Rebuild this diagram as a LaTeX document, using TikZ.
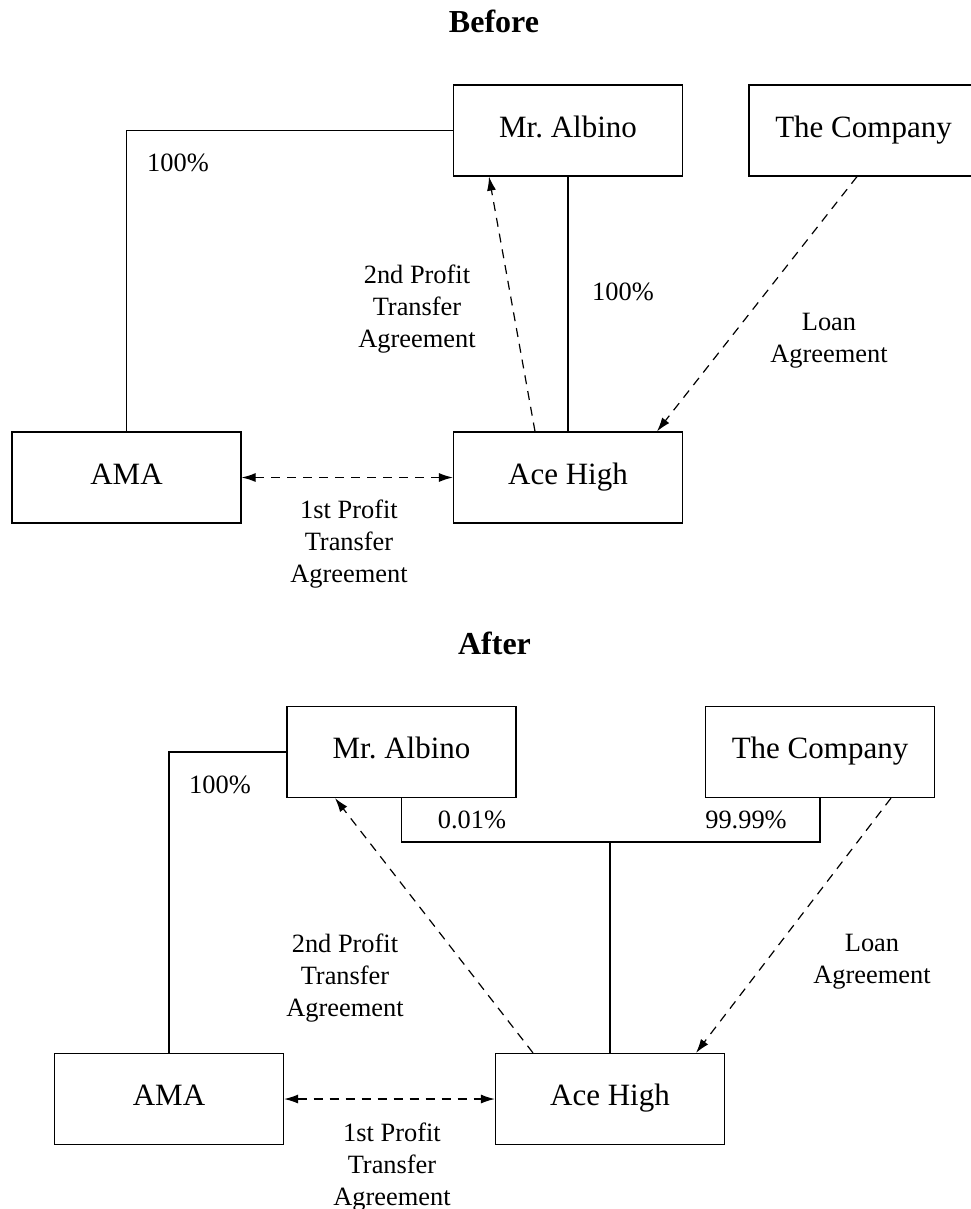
\documentclass[tikz,border=0pt]{standalone}
\usepackage{fontspec}
\setmainfont{Liberation Serif}
\usetikzlibrary{arrows.meta}
\frenchspacing

\begin{document}
\begin{tikzpicture}[x=0.5pt, y=-0.5pt, line width=0.6pt,
    box/.style = {draw, minimum width=114.5pt, minimum height=45.5pt, inner sep=0pt,
                  text height=0.66em, text depth=0em,
                  font=\fontsize{15.5}{18}\selectfont},
    lbl/.style = {align=center, inner sep=0pt, font=\fontsize{13.2}{16}\selectfont},
    ttl/.style = {anchor=base, inner sep=0pt, font=\fontsize{16}{19}\selectfont\bfseries},
    agree/.style = {dashed, dash pattern=on 4.5pt off 3.5pt},
    tip/.style = {-{Latex[length=7pt, width=4.5pt]}},
    tips/.style = {{Latex[length=7pt, width=4.5pt]}-{Latex[length=7pt, width=4.5pt]}}]
\useasboundingbox (0,0) rectangle (970,1209);

% before
\node [ttl] (before) at (494,33) {Before};
\node [box] (albinoB)  at (568,130.5)   {Mr. Albino};
\node [box] (companyB) at (863.5,130.5) {The Company};
\node [box] (amaB)     at (126.5,477.5) {AMA};
\node [box] (aceB)     at (568,477.5)   {Ace High};

\draw (albinoB.west) -| (amaB.north);
\draw (albinoB.south) -- (aceB.north);
\draw [agree, tip] ([xshift=-16.5pt]aceB.north) -- ([xshift=-39.5pt]albinoB.south);
\draw [agree, tip] ([xshift=-3.25pt]companyB.south) -- ([xshift=44.5pt]aceB.north);
\draw [agree, tips] (amaB.east) -- (aceB.west);

\node [lbl] (ownAmaB) at (178,163) {100\%};
\node [lbl] (ownAceB) at (623,292) {100\%};
\node [lbl] (ptaTwoB) at (417,309) {2nd Profit\\Transfer\\Agreement};
\node [lbl] (loanB)   at (829,340.5) {Loan\\Agreement};
\node [lbl] (ptaOneB) at (349,544) {1st Profit\\Transfer\\Agreement};

% after
\node [ttl] (after) at (494.5,654) {After};
\node [box] (albinoA)  at (401.5,752) {Mr. Albino};
\node [box] (companyA) at (820,752)   {The Company};
\node [box] (amaA)     at (169,1099)  {AMA};
\node [box] (aceA)     at (610,1099)  {Ace High};
\coordinate (joinA) at (610,842);

\draw (albinoA.west) -| (amaA.north);
\draw (albinoA.south) |- (joinA) -| (companyA.south);
\draw (joinA) -- (aceA.north);
\draw [agree, tip] ([xshift=-38.5pt]aceA.north) -- ([xshift=-33.25pt]albinoA.south);
\draw [agree, tip] ([xshift=35.5pt]companyA.south) -- ([xshift=43pt]aceA.north);
\draw [agree, tips] (amaA.east) -- (aceA.west);

\node [lbl] (ownAmaA)     at (220,785) {100\%};
\node [lbl] (ownAlbinoA)  at (472,820) {0.01\%};
\node [lbl] (ownCompanyA) at (746,820) {99.99\%};
\node [lbl] (ptaTwoA) at (345,978)   {2nd Profit\\Transfer\\Agreement};
\node [lbl] (loanA)   at (872,961.5) {Loan\\Agreement};
\node [lbl] (ptaOneA) at (392,1167)  {1st Profit\\Transfer\\Agreement};
\end{tikzpicture}
\end{document}
